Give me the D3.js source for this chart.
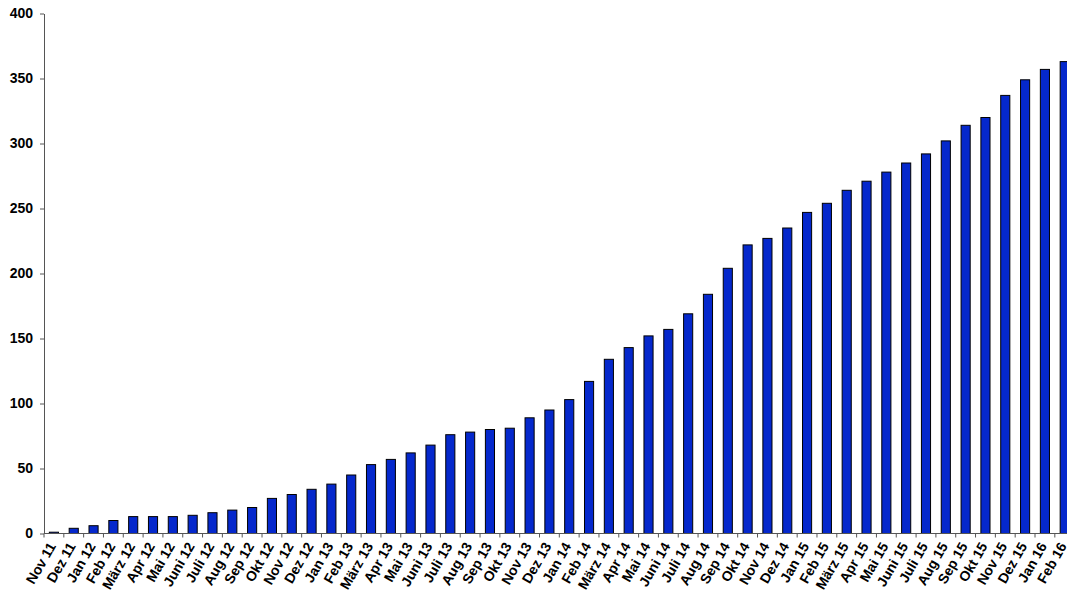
<!DOCTYPE html>
<html>
<head>
<meta charset="utf-8">
<script src="https://cdn.jsdelivr.net/npm/d3@7"></script>
<style>
  body { margin: 0; background: #fff; }
  svg { display: block; font-family: Arial, "Liberation Sans", sans-serif; }
</style>
</head>
<body>
<figure id="chart" style="margin:0"></figure>
<script>
const months = ['Nov 11', 'Dez 11',
  'Jan 12', 'Feb 12', 'März 12', 'Apr 12', 'Mai 12', 'Juni 12', 'Juli 12', 'Aug 12', 'Sep 12', 'Okt 12', 'Nov 12', 'Dez 12',
  'Jan 13', 'Feb 13', 'März 13', 'Apr 13', 'Mai 13', 'Juni 13', 'Juli 13', 'Aug 13', 'Sep 13', 'Okt 13', 'Nov 13', 'Dez 13',
  'Jan 14', 'Feb 14', 'März 14', 'Apr 14', 'Mai 14', 'Juni 14', 'Juli 14', 'Aug 14', 'Sep 14', 'Okt 14', 'Nov 14', 'Dez 14',
  'Jan 15', 'Feb 15', 'März 15', 'Apr 15', 'Mai 15', 'Juni 15', 'Juli 15', 'Aug 15', 'Sep 15', 'Okt 15', 'Nov 15', 'Dez 15',
  'Jan 16', 'Feb 16'];

const counts = [1, 4,
  6, 10, 13, 13, 13, 14, 16, 18, 20, 27, 30, 34,
  38, 45, 53, 57, 62, 68, 76, 78, 80, 81, 89, 95,
  103, 117, 134, 143, 152, 157, 169, 184, 204, 222, 227, 235,
  247, 254, 264, 271, 278, 285, 292, 302, 314, 320, 337, 349,
  357, 363];

const yTicks = [0, 50, 100, 150, 200, 250, 300, 350, 400];

const width = 1067;
const height = 591;
const marginLeft = 44;
const plotTop = 13.5;
const plotBottom = 533.5;

const svg = d3.select('figure#chart')
  .append('svg')
  .attr('width', width)
  .attr('height', height);

const x = d3.scaleBand()
  .domain(months)
  .range([marginLeft, marginLeft + months.length * 19.82])
  .paddingInner(0.54)
  .paddingOuter(0.27);

const y = d3.scaleLinear()
  .domain([0, 400])
  .range([plotBottom, plotTop]);

// bars
svg.selectAll('rect.bar')
  .data(months.map((m, i) => ({ month: m, value: counts[i] })))
  .enter()
  .append('rect')
  .attr('class', 'bar')
  .attr('x', d => x(d.month))
  .attr('y', d => y(d.value))
  .attr('width', x.bandwidth())
  .attr('height', d => plotBottom - y(d.value))
  .attr('fill', '#0528cc')
  .attr('stroke', '#000')
  .attr('stroke-width', 1);

// y axis
const yAxis = svg.append('g')
  .attr('transform', 'translate(' + marginLeft + ',0)')
  .call(d3.axisLeft(y).tickValues(yTicks).tickSize(4).tickPadding(7).tickSizeOuter(0));
yAxis.selectAll('path, line').attr('stroke', '#555');
yAxis.selectAll('text')
  .style('font-size', '14px')
  .style('font-weight', 'bold')
  .attr('fill', '#000');

// x axis: ticks between categories, labels rotated
const step = x.step();
const x0 = x.range()[0];
const xAxis = svg.append('g');
xAxis.append('line')
  .attr('x1', marginLeft).attr('x2', width)
  .attr('y1', plotBottom).attr('y2', plotBottom)
  .attr('stroke', '#555');
xAxis.selectAll('line.tick')
  .data(d3.range(months.length + 1))
  .enter()
  .append('line')
  .attr('class', 'tick')
  .attr('x1', i => x0 + i * step).attr('x2', i => x0 + i * step)
  .attr('y1', plotBottom).attr('y2', plotBottom + 4)
  .attr('stroke', '#555');
xAxis.selectAll('text')
  .data(months)
  .enter()
  .append('text')
  .text(d => d)
  .attr('transform', d => 'translate(' + (x(d) + x.bandwidth() / 2 + 2.5) + ',' + (plotBottom + 12.5) + ')rotate(-60)')
  .style('text-anchor', 'end')
  .style('font-size', '14px')
  .style('font-weight', 'bold')
  .attr('fill', '#000');
</script>
</body>
</html>
